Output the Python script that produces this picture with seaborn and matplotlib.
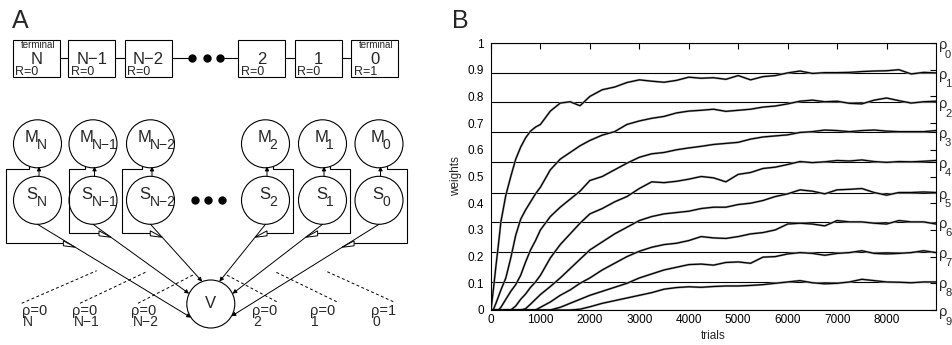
import numpy as np
import pandas as pd
import matplotlib
matplotlib.use('Agg')
import matplotlib.pyplot as plt
from matplotlib.patches import Circle, Rectangle, Polygon
from matplotlib.ticker import FuncFormatter
import seaborn as sns

# ---------------- panel B: weights over trials
trials = [0, 50, 100, 150, 200, 300, 400, 500, 600, 700, 800, 900, 1000,
          1200, 1400, 1600, 1800, 2000, 2250, 2500, 2750, 3000, 3250, 3500,
          3750, 4000, 4250, 4500, 4750, 5000, 5250, 5500, 5750, 6000, 6250,
          6500, 6750, 7000, 7250, 7500, 7750, 8000, 8250, 8500, 8750, 9000]

w_rho1 = [0, 0.08, 0.165, 0.245, 0.33, 0.43, 0.50, 0.565, 0.61, 0.645, 0.67, 0.685, 0.695,
          0.745, 0.775, 0.78, 0.765, 0.80, 0.825, 0.835, 0.852, 0.862, 0.857, 0.853,
          0.86, 0.872, 0.868, 0.87, 0.864, 0.878, 0.862, 0.874, 0.878, 0.888, 0.895,
          0.886, 0.889, 0.889, 0.89, 0.893, 0.895, 0.896, 0.9, 0.884, 0.89, 0.888]
w_rho2 = [0, 0.003, 0.025, 0.05, 0.075, 0.12, 0.195, 0.28, 0.34, 0.375, 0.405, 0.435, 0.46,
          0.525, 0.565, 0.59, 0.615, 0.635, 0.655, 0.668, 0.695, 0.708, 0.718, 0.725,
          0.738, 0.745, 0.748, 0.752, 0.744, 0.748, 0.752, 0.76, 0.764, 0.772, 0.782,
          0.786, 0.78, 0.782, 0.774, 0.772, 0.786, 0.794, 0.784, 0.775, 0.78, 0.782]
w_rho3 = [0, 0, 0, 0, 0.01, 0.04, 0.07, 0.095, 0.13, 0.18, 0.225, 0.26, 0.3,
          0.35, 0.385, 0.415, 0.445, 0.485, 0.5, 0.525, 0.55, 0.572, 0.585, 0.59,
          0.6, 0.607, 0.613, 0.62, 0.624, 0.628, 0.64, 0.648, 0.652, 0.656, 0.665,
          0.668, 0.674, 0.672, 0.668, 0.672, 0.674, 0.67, 0.668, 0.668, 0.668, 0.672]
w_rho4 = [0, 0, 0, 0, 0, 0, 0, 0.015, 0.04, 0.06, 0.085, 0.105, 0.13,
          0.195, 0.245, 0.285, 0.325, 0.36, 0.38, 0.405, 0.425, 0.455, 0.48, 0.477,
          0.482, 0.49, 0.5, 0.495, 0.48, 0.508, 0.515, 0.53, 0.535, 0.545, 0.556,
          0.552, 0.555, 0.56, 0.558, 0.562, 0.556, 0.553, 0.556, 0.555, 0.557, 0.56]
w_rho5 = [0, 0, 0, 0, 0, 0, 0, 0, 0, 0.005, 0.022, 0.04, 0.058,
          0.088, 0.12, 0.155, 0.19, 0.225, 0.255, 0.285, 0.31, 0.335, 0.35, 0.36,
          0.365, 0.37, 0.38, 0.385, 0.385, 0.395, 0.4, 0.41, 0.425, 0.435, 0.45,
          0.445, 0.435, 0.45, 0.452, 0.455, 0.44, 0.43, 0.44, 0.44, 0.442, 0.44]
w_rho6 = [0, 0, 0, 0, 0, 0, 0, 0, 0, 0, 0, 0, 0.01,
          0.03, 0.055, 0.075, 0.1, 0.12, 0.15, 0.175, 0.2, 0.22, 0.235, 0.245,
          0.25, 0.26, 0.275, 0.27, 0.268, 0.275, 0.285, 0.29, 0.3, 0.322, 0.325,
          0.322, 0.315, 0.335, 0.33, 0.33, 0.325, 0.322, 0.335, 0.33, 0.33, 0.322]
w_rho7 = [0, 0, 0, 0, 0, 0, 0, 0, 0, 0, 0, 0, 0,
          0, 0.01, 0.025, 0.04, 0.055, 0.07, 0.085, 0.1, 0.12, 0.135, 0.15,
          0.16, 0.17, 0.172, 0.168, 0.178, 0.18, 0.175, 0.198, 0.2, 0.21, 0.215,
          0.212, 0.205, 0.212, 0.215, 0.222, 0.212, 0.21, 0.212, 0.215, 0.222, 0.215]
w_rho8 = [0, 0, 0, 0, 0, 0, 0, 0, 0, 0, 0, 0, 0,
          0, 0, 0, 0.003, 0.012, 0.025, 0.035, 0.045, 0.055, 0.065, 0.078,
          0.084, 0.087, 0.085, 0.088, 0.09, 0.09, 0.092, 0.095, 0.1, 0.105, 0.11,
          0.102, 0.098, 0.1, 0.105, 0.115, 0.11, 0.105, 0.104, 0.102, 0.105, 0.105]

rho_levels = [1.0, 0.889, 0.779, 0.668, 0.555, 0.44, 0.33, 0.218, 0.106, 0.0]
rho_names = ['0', '1', '2', '3', '4', '5', '6', '7', '8', '9']

# ---------------- panel A: chain of states
state_names = ['N', 'N\u22121', 'N\u22122', '2', '1', '0']
rewards = ['R=0', 'R=0', 'R=0', 'R=0', 'R=0', 'R=1']
terminal = [True, False, False, False, False, True]
rho_values = ['0', '0', '0', '0', '0', '1']

sns.set_style('white')
plt.rcParams['font.family'] = ['Liberation Sans', 'DejaVu Sans']

W, H = 953, 345
fig = plt.figure(figsize=(W / 100, H / 100), dpi=100)

# ---- panel A drawn in pixel coordinates
axa = fig.add_axes([0, 0, 450 / W, 1])
axa.set_xlim(0, 450)
axa.set_ylim(H, 0)
axa.axis('off')

box_x = [36.3, 91.7, 148.3, 261.7, 318.3, 375]
unit_x = [37.5, 93, 150.5, 265.5, 322.5, 379]
lw = 0.8

for bx, name, rew, term in zip(box_x, state_names, rewards, terminal):
    axa.add_patch(Rectangle((bx - 23.5, 40), 47, 36.7, fill=False, edgecolor='k', lw=lw))
    axa.text(bx, 59.5, name, ha='center', va='center', fontsize=12)
    axa.text(bx - 21, 71.8, rew, ha='left', va='center', fontsize=9)
    if term:
        axa.text(bx + 1.5, 45.5, 'terminal', ha='center', va='center', fontsize=7)

for i in [0, 1, 3, 4]:
    axa.plot([box_x[i] + 23.5, box_x[i + 1] - 23.5], [58.3, 58.3], color='k', lw=lw)
axa.plot([box_x[2] + 23.5, 188], [58.3, 58.3], color='k', lw=lw)
axa.plot([224, box_x[3] - 23.5], [58.3, 58.3], color='k', lw=lw)
axa.plot([191.7, 206.7, 220], [58.3] * 3, 'o', color='k', ms=5)
axa.plot([195, 208.3, 221.7], [200] * 3, 'o', color='k', ms=5)

my, sy, r = 143.8, 200.3, 24
vx, vy = 210.8, 304
v_angle = [145.5, 205.5, 249, 291, 334.6, 30.6]
loop_dx = [31, 24, 28, 28, 28, 28]
loop_y = [243.3, 233.3, 233.3, 233.3, 233.3, 243.3]
arrow = dict(arrowstyle='-|>', lw=0.7, color='k', mutation_scale=6, shrinkA=0, shrinkB=0)

for i, (cx, sub) in enumerate(zip(unit_x, state_names)):
    side = -1 if i < 3 else 1
    axa.add_patch(Circle((cx, my), r, fill=False, edgecolor='k', lw=lw))
    axa.add_patch(Circle((cx, sy), r, fill=False, edgecolor='k', lw=lw))
    lx = cx - 6 if sub.startswith('N') else cx - 1
    for letter, yy in [('M', my), ('S', sy)]:
        axa.text(lx, yy - 1.5, letter, ha='center', va='baseline', fontsize=12)
        axa.text(lx + 5, yy + 5.5, sub, ha='left', va='baseline', fontsize=10)
    # S -> M
    axa.annotate('', xy=(cx + 1.5, 166.5), xytext=(cx + 1.5, sy - r), arrowprops=arrow)
    # S -> V
    ang = np.deg2rad(v_angle[i])
    ex, ey = vx + r * np.cos(ang), vy + r * np.sin(ang)
    axa.annotate('', xy=(ex, ey), xytext=(cx, sy + r), arrowprops=arrow)
    # feedback loop from M ending in an open synapse on the S -> V line
    ly = loop_y[i]
    t = (ly + 4 - (sy + r)) / (ey - (sy + r))
    tip_x = cx + t * (ex - cx)
    base_x = tip_x + side * 12
    mx = cx + side * 8
    my_att = my + np.sqrt(r ** 2 - 64)
    ox = cx + side * loop_dx[i]
    axa.plot([mx, mx, ox, ox, base_x], [my_att, 168.5, 168.5, ly, ly], color='k', lw=lw)
    axa.add_patch(Polygon([(base_x, ly - 2.5), (base_x, ly + 2.5), (tip_x, ly + 4)],
                          closed=True, facecolor='white', edgecolor='k', lw=0.7, zorder=3))

axa.add_patch(Circle((vx, vy), r, fill=False, edgecolor='k', lw=lw))
axa.text(vx, vy, 'V', ha='center', va='center', fontsize=12)

rho_x = [21.7, 72, 131, 252, 310, 371]
dash_start = [(21.7, 303.3), (80, 303.3), (138, 303.3), (276.7, 301.7), (336.7, 301.7), (393.3, 301.7)]
dash_end = [(96.7, 270.7), (146.7, 271.7), (193, 275), (226.7, 275), (275, 271.7), (325, 270.7)]
for x0, sub, val, (sx0, sy0), (ex0, ey0) in zip(rho_x, state_names, rho_values, dash_start, dash_end):
    axa.text(x0, 315, '\u03c1=' + val, ha='left', va='baseline', fontsize=10.5)
    axa.text(x0 + 1.5, 326.5, sub, ha='left', va='baseline', fontsize=10)
    axa.plot([sx0, ex0], [sy0, ey0], color='k', lw=0.7, ls=(0, (3, 2.5)))

fig.text(12 / W, 1 - 28 / H, 'A', fontsize=18, ha='left', va='baseline')
fig.text(452 / W, 1 - 28 / H, 'B', fontsize=18, ha='left', va='baseline')

# ---- panel B
curves = [w_rho1, w_rho2, w_rho3, w_rho4, w_rho5, w_rho6, w_rho7, w_rho8]
df = pd.concat([pd.DataFrame({'trials': trials, 'weight': w, 'state': k + 1})
                for k, w in enumerate(curves)], ignore_index=True)

ax = fig.add_axes([491 / W, (H - 310) / H, 445 / W, 267 / H])
for lev in rho_levels:
    ax.axhline(lev, color='k', lw=0.8, zorder=1)
sns.lineplot(data=df, x='trials', y='weight', units='state', estimator=None,
             color='#a8a8a8', lw=1.6, ax=ax, zorder=2)
sns.lineplot(data=df, x='trials', y='weight', units='state', estimator=None,
             color='black', lw=0.9, ax=ax, zorder=3)

ax.set_xlim(0, 9000)
ax.set_ylim(0, 1)
ax.set_xticks(range(0, 8001, 1000))
ax.set_yticks(np.arange(0, 1.01, 0.1))
ax.yaxis.set_major_formatter(FuncFormatter(lambda v, p: f'{v:g}'))
ax.tick_params(direction='in', length=4, width=0.8, top=True, right=True,
               labelsize=8.5, colors='k')
ax.tick_params(axis='y', pad=5)
ax.tick_params(axis='x', pad=3)
for s in ax.spines.values():
    s.set_linewidth(0.8)
    s.set_color('k')
ax.set_xlabel('trials', fontsize=8.5)
ax.set_ylabel('weights', fontsize=8.5)
ax.xaxis.set_label_coords(0.5, -0.075)
ax.yaxis.set_label_coords(-0.066, 0.5)

for lev, nm in zip(rho_levels, rho_names):
    ax.annotate('\u03c1', xy=(1, lev), xycoords=('axes fraction', 'data'),
                xytext=(2.5, -4.5), textcoords='offset points',
                ha='left', va='baseline', fontsize=10.5, annotation_clip=False)
    ax.annotate(nm, xy=(1, lev), xycoords=('axes fraction', 'data'),
                xytext=(6.5, -10.5), textcoords='offset points',
                ha='left', va='baseline', fontsize=8, annotation_clip=False)

fig.savefig('out.png', dpi=100)
